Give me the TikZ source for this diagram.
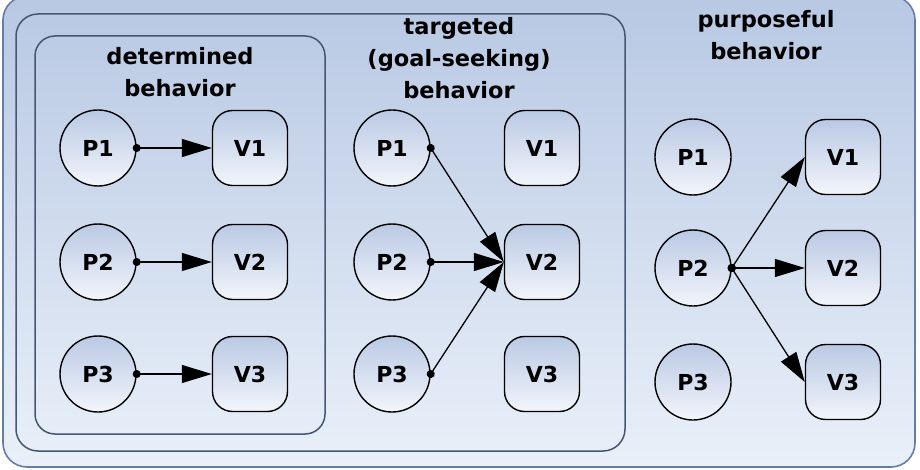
\documentclass[tikz,border=0pt]{standalone}
\usepackage{fontspec}
\setmainfont{DejaVu Sans}
\usetikzlibrary{arrows.meta}
\definecolor{bgtop}{RGB}{184,200,227}
\definecolor{bgbot}{RGB}{233,240,249}
\definecolor{ndtop}{RGB}{186,201,228}
\definecolor{ndbot}{RGB}{242,245,251}
\definecolor{frame}{RGB}{70,86,112}
\definecolor{outer}{RGB}{100,125,168}
\tikzset{
  pnode/.style={draw,circle,line width=1.4pt,minimum size=76pt,inner sep=0pt,
    top color=ndtop,bottom color=ndbot,font=\bfseries\fontsize{22}{24}\selectfont},
  vnode/.style={draw,rectangle,rounded corners=20pt,line width=1.4pt,minimum size=75pt,
    inner sep=0pt,top color=ndtop,bottom color=ndbot,font=\bfseries\fontsize{22}{24}\selectfont},
  title/.style={align=center,font=\bfseries\fontsize{22.5}{32}\selectfont},
  link/.style={line width=1.3pt,shorten <=-4pt,
    {Circle[length=8pt]}-{Triangle[length=30pt,width=18pt]}},
  box/.style={draw=frame,line width=1.5pt,rounded corners=22pt}
}
\begin{document}
\begin{tikzpicture}[x=1pt,y=-1pt]
\useasboundingbox (0,0) rectangle (920,470);
\draw[draw=outer,line width=1.6pt,rounded corners=24pt,top color=bgtop,bottom color=bgbot]
   (3,-4) rectangle (915,467);
\draw[box] (16,14) rectangle (625,451);
\draw[box,rounded corners=20pt] (35,36) rectangle (325,434);
% titles
\node[title] (dt) at (180,72) {determined\\behavior};
\node[title] (tt) at (459,58) {targeted\\(goal-seeking)\\behavior};
\node[title] (pt) at (766,35) {purposeful\\behavior};
% determined
\foreach[count=\k] \y in {148,262,374} {
   \node[pnode] (dp\k) at (98,\y) {P\k};
   \node[vnode] (dv\k) at (250,\y) {V\k};
   \draw[link] (dp\k.east) -- (dv\k.west);}
% targeted
\foreach[count=\k] \y in {148,262,374} {
   \node[pnode] (tp\k) at (392,\y) {P\k};
   \node[vnode] (tv\k) at (542,\y) {V\k};}
\foreach \k in {1,2,3}
   \draw[link] (tp\k.east) -- (tv2.west);
% purposeful
\foreach[count=\k] \y in {157,268,382} {
   \node[pnode] (pp\k) at (693,\y) {P\k};
   \node[vnode] (pv\k) at (843,\y) {V\k};}
\foreach \k in {1,2,3}
   \draw[link] (pp2.east) -- (pv\k.west);
\end{tikzpicture}
\end{document}
